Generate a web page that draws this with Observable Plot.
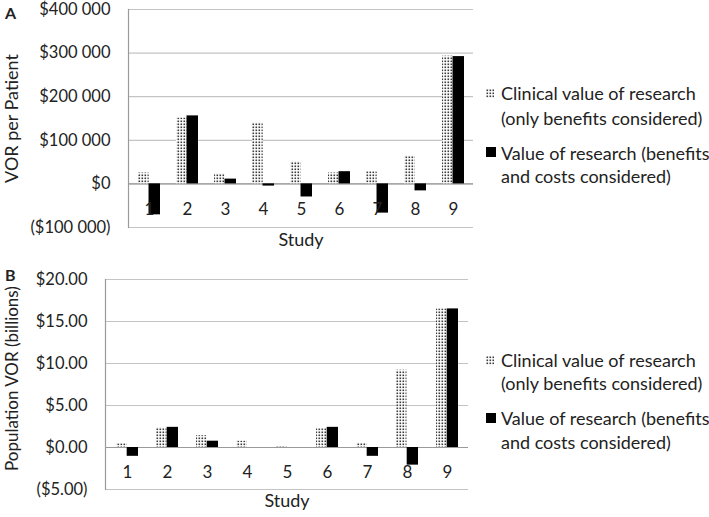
<!DOCTYPE html>
<html><head><meta charset="utf-8">
<script src="https://cdn.jsdelivr.net/npm/d3@7"></script>
<script src="https://cdn.jsdelivr.net/npm/@observablehq/plot@0.6"></script>
<style>
body{margin:0;background:#fff;font-family:Lato,"Open Sans",sans-serif;color:#222;}
#wrap{position:relative;width:709px;height:517px;overflow:hidden;}
.panel{position:absolute;left:0;width:709px;}
.tag{position:absolute;font-weight:bold;font-size:16px;line-height:18px;}
.lg{position:absolute;left:501px;font-size:18px;line-height:20px;white-space:nowrap;color:#222;}
.sw{position:absolute;}
</style></head>
<body>
<svg width="0" height="0" style="position:absolute">
  <defs>
    <pattern id="dots" width="3" height="3" patternUnits="userSpaceOnUse">
      <rect width="3" height="3" fill="#fff"></rect>
      <rect x="0.5" y="0.5" width="1.6" height="1.6" fill="#3a3a3a"></rect>
    </pattern>
  </defs>
</svg>
<div id="wrap">
  <div class="panel" id="pa" style="top:0"></div>
  <div class="panel" id="pb" style="top:260px"></div>
  <div class="tag" style="left:5px;top:4px">A</div>
  <div class="tag" style="left:5px;top:266px">B</div>
</div>
<script>
const studies = ["1","2","3","4","5","6","7","8","9"];
const seriesNames = ["Clinical value of research", "(only benefits considered)", "Value of research (benefits", "and costs considered)"];
const clinicalPerPatient = [25000,151000,23000,140000,51000,25000,28000,64000,293000];
const vorPerPatient = [-71000,156000,11000,-5000,-30000,28000,-67000,-16000,292000];
const clinicalPopulation = [0.45,2.35,1.4,0.75,0.1,2.25,0.5,9.2,16.5];
const vorPopulation = [-1.05,2.4,0.75,0,0,2.4,-1.05,-2.1,16.5];
const ticksA = [-100000,0,100000,200000,300000,400000];
const ticksB = [-5,0,5,10,15,20];
const labelA = "VOR per Patient";
const labelB = "Population VOR (billions)";
const xTitle = "Study";

const sp = d3.format(",");
const fmtA = d => { const s = sp(Math.abs(d)).replace(/,/g, " "); return d < 0 ? `($${s})` : `$${s}`; };
const fmtB = d => { const s = Math.abs(d).toFixed(2); return d < 0 ? `($${s})` : `$${s}`; };

function panel({clin, vor, ticks, fmt, label, labelSize, height, mL, mR, mT, mB, p, numDy, titleDy, labelDy}) {
  const W = 709 - mL - mR;
  const bw = (W / studies.length) * (1 - p);
  const rows1 = studies.map((s, i) => ({study: s, v: clin[i]}));
  const rows2 = studies.map((s, i) => ({study: s, v: vor[i]}));
  return Plot.plot({
    width: 709, height,
    marginLeft: mL, marginRight: mR, marginTop: mT, marginBottom: mB,
    style: {fontFamily: "Lato, 'Open Sans', sans-serif", fontSize: "16px", color: "#222", background: "transparent", overflow: "visible"},
    x: {domain: studies, paddingInner: p, paddingOuter: p / 2, axis: null},
    y: {domain: [ticks[0], ticks[ticks.length - 1]], axis: null},
    marks: [
      Plot.ruleY(ticks, {stroke: "#c4c4c4", strokeWidth: 1.2}),
      Plot.ruleY([0], {stroke: "#9a9a9a", strokeWidth: 1.2}),
      Plot.frame({anchor: "left", stroke: "#9a9a9a", strokeWidth: 1.2}),
      Plot.barY(rows1, {x: "study", y: "v", fill: "url(#dots)", insetRight: bw / 2 + 0.4}),
      Plot.barY(rows2, {x: "study", y: "v", fill: "#000", insetLeft: bw / 2 - 0.4}),
      Plot.text(studies, {x: d => d, y: () => 0, dy: numDy, fontSize: 17, fill: "#222"}),
      Plot.axisY(ticks, {tickSize: 0, tickPadding: 18, tickFormat: fmt, fontSize: 16.5, label: null}),
      Plot.text([label], {frameAnchor: "left", textAnchor: "middle", rotate: -90, dx: -(mL - 12), dy: labelDy, fontSize: labelSize, fill: "#222"}),
      Plot.text([xTitle], {frameAnchor: "bottom", dy: titleDy, fontSize: 18, fill: "#222"})
    ]
  });
}

document.getElementById("pa").appendChild(panel({
  clin: clinicalPerPatient, vor: vorPerPatient, ticks: ticksA, fmt: fmtA, label: labelA, labelSize: 18,
  height: 260, mL: 128, mR: 236, mT: 9, mB: 33, p: 0.43, numDy: 26, titleDy: 18, labelDy: 0
}));
document.getElementById("pb").appendChild(panel({
  clin: clinicalPopulation, vor: vorPopulation, ticks: ticksB, fmt: fmtB, label: labelB, labelSize: 17,
  height: 257, mL: 105, mR: 241, mT: 19, mB: 28, p: 0.45, numDy: 25, titleDy: 17, labelDy: -6
}));

// legends
const wrap = document.getElementById("wrap");
function legend(tops, swTops) {
  seriesNames.forEach((t, i) => {
    const d = document.createElement("div");
    d.className = "lg"; d.style.top = (tops[i] - 10) + "px"; d.textContent = t;
    wrap.appendChild(d);
  });
  const s1 = document.createElementNS("http://www.w3.org/2000/svg", "svg");
  s1.setAttribute("class", "sw"); s1.setAttribute("width", 8); s1.setAttribute("height", 9);
  s1.style.left = "486px"; s1.style.top = (swTops[0] - 4.5) + "px";
  s1.innerHTML = '<rect width="8" height="9" fill="url(#dots)"></rect>';
  wrap.appendChild(s1);
  const s2 = document.createElementNS("http://www.w3.org/2000/svg", "svg");
  s2.setAttribute("class", "sw"); s2.setAttribute("width", 10); s2.setAttribute("height", 10);
  s2.style.left = "486px"; s2.style.top = (swTops[1] - 5) + "px";
  s2.innerHTML = '<rect width="10" height="10" fill="#000"></rect>';
  wrap.appendChild(s2);
}
legend([93, 118, 153, 176], [93, 152]);
legend([360, 383, 418, 442], [360, 418]);
</script>
</body></html>
